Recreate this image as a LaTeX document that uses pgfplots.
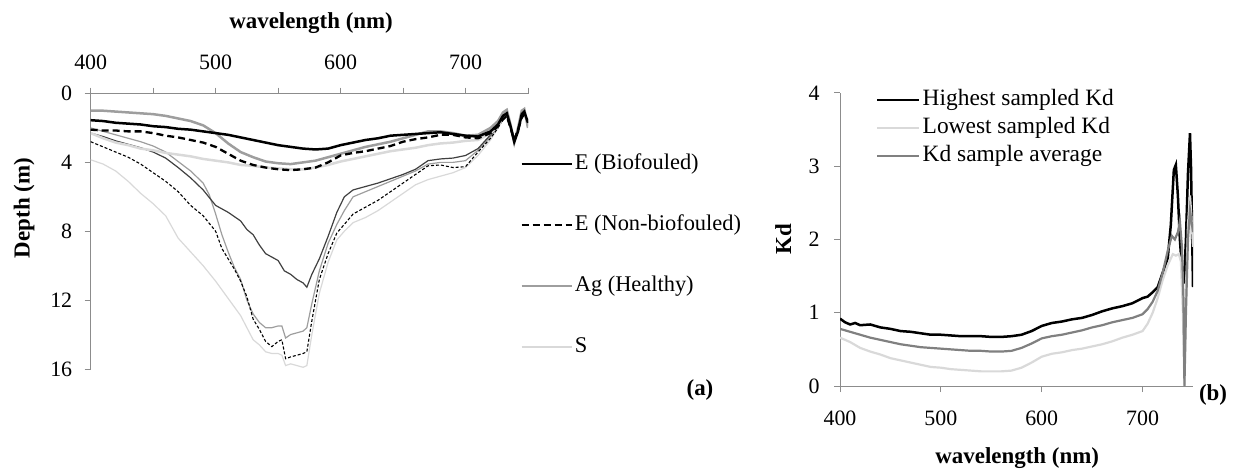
\documentclass[border=0pt]{standalone}
\usepackage{pgfplots}
\pgfplotsset{compat=1.18}
\usepackage{fontspec}
\setmainfont{Liberation Serif}
\definecolor{agray}{gray}{0.62}
\definecolor{sgray}{gray}{0.85}
\definecolor{dgray}{gray}{0.25}
\definecolor{mgray}{gray}{0.5}
\definecolor{axgray}{gray}{0.55}
\begin{document}
\begin{tikzpicture}[x=1bp,y=1bp]
\path[draw=none] (0,0) rectangle (1236,-469);
\coordinate (PA) at (309.35,-231.25);
\coordinate (PB) at (1016.5,-239.5);
\pgfplotsset{every axis/.append style={
  font=\fontsize{22}{26}\selectfont,
  scale only axis,
  axis line style={axgray, line width=1bp},
  every tick/.style={axgray, line width=1bp},
  tick align=outside, major tick length=6bp,
  /pgf/number format/assume math mode=true,
  tick label style={font=\fontsize{22}{26}\selectfont},
  label style={font=\fontsize{23}{27}\selectfont\bfseries},
}}
% ---------------- panel (a)
\begin{axis}[at={(PA)}, anchor=center,
  width=437.3bp, height=275.5bp,
  xmin=400, xmax=750, ymin=0, ymax=16, y dir=reverse,
  axis x line*=top, axis y line*=left,
  xtick={400,450,...,750}, xticklabels={400,,500,,600,,700,},
  ytick={0,4,8,12,16},
  xticklabel style={yshift=14bp},
  yticklabel style={xshift=-9bp},
  xlabel={wavelength (nm)}, ylabel={Depth (m)},
  xlabel style={at={(axis description cs:0.504,1.256)}, anchor=center},
  ylabel style={at={(axis description cs:-0.152,0.584)}, anchor=center},
  reverse legend,
  legend style={at={(axis description cs:0.982,0.788)}, anchor=north west,
    draw=none, fill=none, inner sep=0pt, row sep=37bp,
    nodes={inner sep=2bp, text height=15bp, text depth=5bp},
    font=\fontsize{22.5}{26}\selectfont},
  legend cell align=left,
  legend image code/.code={\draw[#1] (0bp,0bp) -- (50bp,0bp);},
]
% S lower (thin light)
\addplot[sgray, line width=1.2bp, forget plot] coordinates {
(400,3.85)(410,4.1)(420,4.5)(430,5.1)(440,5.8)(450,6.4)(460,7.1)(470,8.4)(480,9.2)(490,10.0)(500,10.9)(510,11.9)(520,12.9)(525,13.6)(530,14.3)(535,14.6)(540,15.0)(545,15.1)(550,15.1)(553,15.2)(556,15.8)(560,15.7)(565,15.8)(570,15.9)(573,15.8)(577,14.0)(583,11.6)(590,9.8)(597,8.5)(603,8.0)(610,7.5)(620,7.2)(630,6.8)(640,6.3)(650,5.8)(660,5.3)(670,5.0)(680,4.8)(690,4.6)(700,4.3)(710,3.6)(720,2.7)(726,2.0)(730,1.4)(733,1.2)(736,1.9)(739,2.8)(742,2.1)(745,1.3)(747,1.1)(750,1.8)};
% Ag lower (thin gray)
\addplot[agray, line width=1.2bp, forget plot] coordinates {
(400,2.0)(410,2.2)(420,2.4)(430,2.6)(440,2.8)(450,3.05)(460,3.4)(470,3.95)(480,4.5)(490,5.2)(495,5.9)(500,7.0)(505,8.2)(510,9.2)(515,10.1)(520,10.8)(525,12.0)(530,12.8)(535,13.3)(540,13.6)(545,13.6)(550,13.5)(553,13.5)(556,14.2)(560,14.0)(565,13.9)(570,13.8)(573,13.6)(577,12.2)(583,10.3)(590,8.7)(597,7.6)(603,6.8)(610,6.0)(620,5.7)(630,5.4)(640,5.1)(650,4.8)(660,4.5)(670,4.1)(680,4.0)(690,4.0)(700,3.9)(710,3.3)(720,2.5)(726,1.9)(730,1.3)(733,1.1)(736,1.9)(739,2.8)(742,2.0)(745,1.2)(747,1.0)(750,1.9)};
% E non-biofouled lower (thin dashed)
\addplot[black, line width=1.1bp, dash pattern=on 3bp off 2bp, forget plot] coordinates {
(400,2.8)(410,3.1)(420,3.4)(430,3.7)(440,4.1)(450,4.6)(460,5.1)(470,5.7)(480,6.5)(490,7.1)(500,8.0)(505,9.0)(510,9.6)(515,10.2)(520,10.9)(525,11.8)(530,13.1)(535,13.7)(540,14.4)(545,14.7)(550,14.4)(553,14.3)(556,15.4)(560,15.3)(565,15.2)(570,15.1)(573,15.0)(577,13.2)(583,10.8)(590,9.3)(597,8.1)(603,7.6)(610,7.0)(620,6.6)(630,6.2)(640,5.7)(650,5.2)(660,4.7)(670,4.2)(680,4.15)(690,4.3)(700,4.25)(710,3.4)(720,2.6)(726,2.0)(730,1.5)(733,1.3)(736,2.0)(739,2.8)(742,2.2)(745,1.4)(747,1.2)(750,1.7)};
% E biofouled lower (thin dark)
\addplot[dgray, line width=1.2bp, forget plot] coordinates {
(400,2.3)(410,2.5)(420,2.75)(430,2.95)(440,3.15)(450,3.4)(460,3.75)(470,4.3)(480,4.9)(490,5.6)(500,6.5)(505,6.7)(510,6.9)(520,7.4)(525,7.9)(530,8.2)(535,8.8)(540,9.3)(545,9.5)(550,9.7)(555,10.3)(560,10.5)(565,10.8)(570,11.0)(573,11.25)(577,10.5)(583,9.6)(590,8.3)(597,6.9)(603,6.0)(610,5.6)(620,5.4)(630,5.2)(640,4.95)(650,4.7)(660,4.4)(670,3.9)(680,3.8)(690,3.75)(700,3.6)(710,3.2)(720,2.4)(726,1.9)(730,1.4)(733,1.2)(736,1.9)(739,2.8)(742,2.1)(745,1.3)(747,1.1)(750,1.7)};
% S upper (thick light)
\addplot[sgray, line width=2.5bp] coordinates {
(400,2.3)(410,2.6)(420,2.85)(430,3.0)(440,3.2)(450,3.3)(460,3.45)(470,3.55)(480,3.65)(490,3.8)(500,3.9)(510,4.0)(520,4.15)(530,4.2)(540,4.3)(550,4.35)(560,4.4)(570,4.4)(580,4.3)(590,4.15)(600,3.95)(610,3.8)(620,3.65)(630,3.5)(640,3.35)(650,3.25)(660,3.15)(670,3.0)(680,2.9)(690,2.85)(700,2.75)(710,2.7)(720,2.3)(726,1.9)(730,1.4)(733,1.2)(736,1.9)(739,2.8)(742,2.1)(745,1.3)(747,1.1)(750,1.8)};
\addlegendentry{S}
% Ag upper (thick gray)
\addplot[agray, line width=2.5bp] coordinates {
(400,1.0)(410,1.0)(420,1.05)(430,1.1)(440,1.15)(450,1.2)(460,1.3)(470,1.45)(480,1.6)(490,1.85)(500,2.3)(510,2.9)(520,3.4)(530,3.7)(540,3.95)(550,4.05)(560,4.1)(570,4.0)(580,3.9)(590,3.7)(600,3.5)(610,3.3)(620,3.1)(630,2.95)(640,2.8)(650,2.6)(660,2.4)(670,2.2)(680,2.2)(690,2.3)(700,2.45)(710,2.4)(720,2.0)(726,1.6)(730,1.1)(733,0.95)(736,1.8)(739,2.85)(742,2.0)(745,1.0)(747,0.9)(750,2.0)};
\addlegendentry{Ag (Healthy)}
% E non-biofouled upper (thick dashed)
\addplot[black, line width=2.3bp, dash pattern=on 7bp off 4bp] coordinates {
(400,2.1)(410,2.15)(420,2.15)(430,2.2)(440,2.2)(450,2.3)(460,2.45)(470,2.55)(480,2.7)(490,2.85)(500,3.1)(510,3.5)(520,3.9)(530,4.15)(540,4.3)(550,4.4)(560,4.45)(570,4.4)(580,4.3)(590,4.0)(600,3.6)(610,3.45)(620,3.35)(630,3.2)(640,3.05)(650,2.8)(660,2.65)(670,2.55)(680,2.4)(690,2.4)(700,2.55)(710,2.6)(720,2.3)(726,1.9)(730,1.5)(733,1.3)(736,2.0)(739,2.7)(742,2.1)(745,1.4)(747,1.2)(750,1.6)};
\addlegendentry{E (Non-biofouled)}
% E biofouled upper (thick black)
\addplot[black, line width=2.5bp] coordinates {
(400,1.55)(410,1.6)(420,1.7)(430,1.75)(440,1.8)(450,1.9)(460,1.95)(470,2.05)(480,2.1)(490,2.2)(500,2.3)(510,2.4)(520,2.55)(530,2.7)(540,2.85)(550,3.0)(560,3.1)(570,3.2)(580,3.25)(590,3.2)(600,3.0)(610,2.85)(620,2.7)(630,2.6)(640,2.45)(650,2.4)(660,2.35)(670,2.3)(680,2.25)(690,2.35)(700,2.45)(710,2.5)(720,2.2)(726,1.8)(730,1.3)(733,1.15)(736,1.9)(739,2.8)(742,2.2)(745,1.2)(747,1.05)(750,1.7)};
\addlegendentry{E (Biofouled)}
\end{axis}
% ---------------- panel (b)
\begin{axis}[at={(PB)}, anchor=center,
  width=353bp, height=293bp,
  xmin=400, xmax=750, ymin=0, ymax=4,
  axis x line*=bottom, axis y line*=left,
  xtick={400,500,600,700}, ytick={0,1,2,3,4},
  xticklabel style={yshift=-15bp},
  yticklabel style={xshift=-11bp},
  xlabel={wavelength (nm)}, ylabel={Kd},
  xlabel style={at={(axis description cs:0.502,-0.246)}, anchor=center},
  ylabel style={at={(axis description cs:-0.161,0.5)}, anchor=center},
  legend style={at={(axis description cs:0.102,1.017)}, anchor=north west,
    draw=none, fill=none, inner sep=0pt, row sep=4bp,
    nodes={inner sep=2bp, text height=15bp, text depth=5bp},
    font=\fontsize{23.5}{27}\selectfont},
  legend cell align=left,
  legend image code/.code={\draw[#1] (0bp,0bp) -- (42bp,0bp);},
]
\addplot[black, line width=2.5bp] coordinates {
(400,0.92)(405,0.87)(410,0.84)(415,0.86)(420,0.83)(430,0.84)(440,0.8)(450,0.78)(460,0.75)(470,0.74)(480,0.72)(490,0.7)(500,0.7)(510,0.69)(520,0.68)(530,0.68)(540,0.68)(550,0.67)(560,0.67)(570,0.68)(580,0.7)(590,0.75)(600,0.82)(610,0.86)(620,0.88)(630,0.91)(640,0.93)(650,0.97)(660,1.02)(670,1.06)(680,1.09)(690,1.13)(700,1.2)(705,1.22)(710,1.28)(715,1.35)(720,1.55)(725,1.75)(728,2.2)(731,2.95)(733,3.02)(735,2.6)(737,2.0)(739,1.6)(741,1.4)(743,2.0)(745,2.9)(747,3.45)(748,3.0)(749,2.2)(750,1.35)};
\addlegendentry{Highest sampled Kd}
\addplot[sgray, line width=2.2bp] coordinates {
(400,0.66)(410,0.6)(420,0.52)(430,0.47)(440,0.43)(450,0.38)(460,0.35)(470,0.32)(480,0.29)(490,0.26)(500,0.25)(510,0.23)(520,0.22)(530,0.21)(540,0.2)(550,0.2)(560,0.2)(570,0.21)(580,0.25)(590,0.32)(600,0.4)(610,0.44)(620,0.46)(630,0.49)(640,0.51)(650,0.54)(660,0.57)(670,0.61)(680,0.66)(690,0.7)(700,0.75)(705,0.85)(710,1.0)(715,1.2)(720,1.45)(725,1.65)(730,1.8)(733,1.78)(736,1.8)(738,1.7)(740,1.0)(741.5,0.02)(743,1.2)(745,2.2)(747,2.6)(748.5,2.3)(750,1.9)};
\addlegendentry{Lowest sampled Kd}
\addplot[mgray, line width=2.2bp] coordinates {
(400,0.78)(410,0.74)(420,0.7)(430,0.66)(440,0.63)(450,0.6)(460,0.57)(470,0.55)(480,0.53)(490,0.52)(500,0.51)(510,0.5)(520,0.49)(530,0.48)(540,0.48)(550,0.47)(560,0.47)(570,0.48)(580,0.52)(590,0.58)(600,0.65)(610,0.68)(620,0.7)(630,0.73)(640,0.76)(650,0.8)(660,0.83)(670,0.87)(680,0.9)(690,0.93)(700,0.98)(705,1.05)(710,1.15)(715,1.3)(720,1.55)(725,1.85)(729,2.05)(732,2.0)(735,2.1)(737,2.25)(739,1.9)(740.5,1.2)(741.5,0.0)(743,1.0)(745,2.0)(747,2.4)(749,2.2)(750,2.1)};
\addlegendentry{Kd sample average}
\end{axis}
\node[font=\fontsize{23}{27}\selectfont\bfseries] at (700,-390) {(a)};
\node[font=\fontsize{23}{27}\selectfont\bfseries] at (1213,-395) {(b)};
\end{tikzpicture}
\end{document}
